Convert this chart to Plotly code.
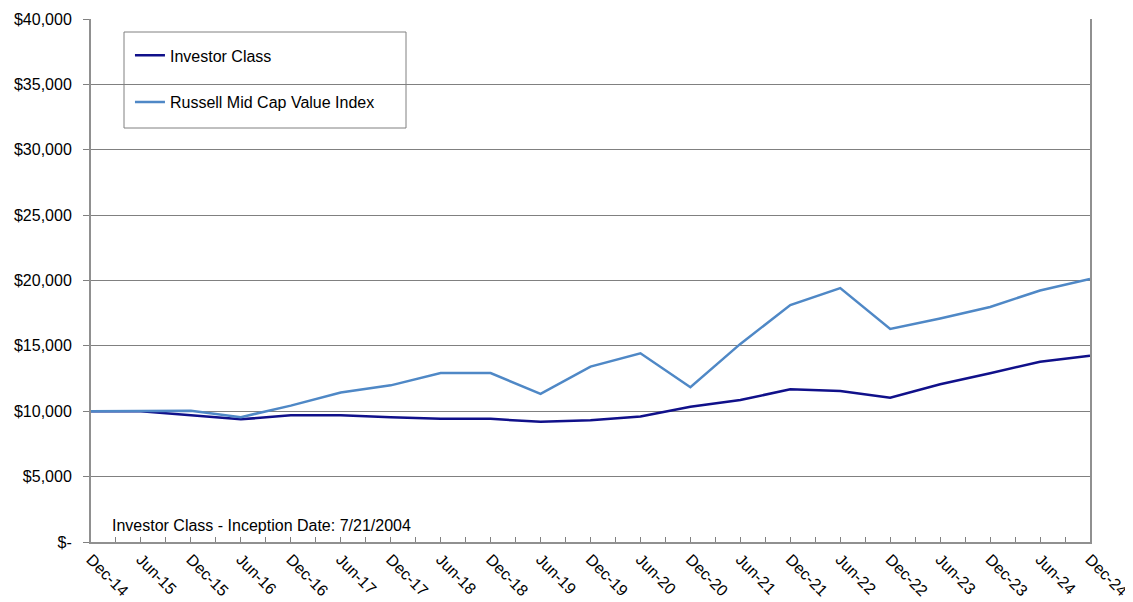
import plotly.graph_objects as go

categories = ["Dec-14", "Jun-15", "Dec-15", "Jun-16", "Dec-16", "Jun-17", "Dec-17",
              "Jun-18", "Dec-18", "Jun-19", "Dec-19", "Jun-20", "Dec-20", "Jun-21",
              "Dec-21", "Jun-22", "Dec-22", "Jun-23", "Dec-23", "Jun-24", "Dec-24"]
investor_class = [10000, 10000, 9700, 9380, 9690, 9690, 9540, 9420, 9420, 9190, 9320,
                  9600, 10350, 10860, 11680, 11550, 11040, 12060, 12900, 13790, 14250]
russell_mcv = [10000, 10000, 10030, 9550, 10430, 11430, 11980, 12920, 12920, 11330, 13410,
               14430, 11840, 15150, 18120, 19420, 16290, 17100, 17970, 19240, 20110]
y_tickvals = [0, 5000, 10000, 15000, 20000, 25000, 30000, 35000, 40000]
y_ticktext = ["$-", "$5,000", "$10,000", "$15,000", "$20,000", "$25,000",
              "$30,000", "$35,000", "$40,000"]

xs = list(range(len(categories)))
FONT = "Liberation Sans, Arial, sans-serif"

fig = go.Figure()
fig.add_trace(go.Scatter(x=xs, y=investor_class, mode="lines", name="Investor Class",
                         line=dict(color="#10108A", width=2.5), legendgroup="a"))
fig.add_trace(go.Scatter(x=xs, y=russell_mcv, mode="lines", name="Russell Mid Cap Value Index",
                         line=dict(color="#4F88C6", width=2.5), legendgroup="b"))

fig.update_layout(
    width=1125, height=594,
    margin=dict(l=83, r=43, t=11, b=60),
    paper_bgcolor="white", plot_bgcolor="white",
    font=dict(family=FONT, size=16, color="black"),
    showlegend=True,
    legend=dict(x=0.039, y=0.963, xanchor="left", yanchor="top",
                bgcolor="rgba(0,0,0,0)", borderwidth=0,
                tracegroupgap=23, traceorder="grouped",
                font=dict(family=FONT, size=16, color="black"),
                itemwidth=30),
    shapes=[dict(type="rect", xref="paper", yref="paper",
                 x0=(124 - 91) / 999, x1=(406 - 91) / 999,
                 y0=(542 - 128) / 523, y1=(542 - 32) / 523,
                 line=dict(color="#808080", width=1), fillcolor="rgba(0,0,0,0)",
                 layer="below")],
    annotations=[dict(text="Investor Class - Inception Date: 7/21/2004",
                      xref="paper", yref="paper", x=(110 - 91) / 999, y=(542 - 525) / 523,
                      xanchor="left", yanchor="middle", showarrow=False,
                      font=dict(family=FONT, size=16, color="black"))],
)

fig.update_xaxes(
    range=[0, len(categories) - 1], tickvals=xs, ticktext=categories,
    tickangle=45, ticks="inside", ticklen=5, tickcolor="#808080",
    minor=dict(dtick=0.5, tick0=0, ticks="inside", ticklen=5, tickcolor="#808080", showgrid=False),
    showgrid=False, showline=True, linecolor="#909090", linewidth=2, mirror=False,
    zeroline=False, automargin=False,
    tickfont=dict(family=FONT, size=16, color="black"),
)
fig.update_yaxes(
    range=[0, 40000], tickvals=y_tickvals, ticktext=y_ticktext,
    ticks="outside", ticklen=6, tickcolor="#808080", ticklabelstandoff=8,
    showgrid=True, gridcolor="#808080", gridwidth=1,
    showline=True, linecolor="#909090", linewidth=2, mirror=True,
    zeroline=False, automargin=False,
    tickfont=dict(family=FONT, size=16, color="black"),
)

fig.write_html("out.html")
